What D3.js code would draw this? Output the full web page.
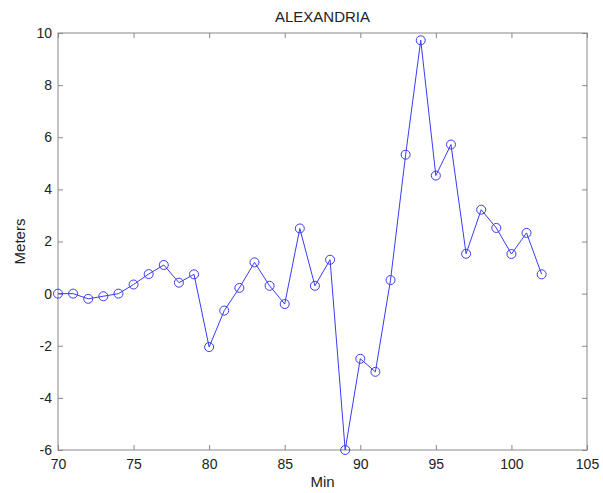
<!DOCTYPE html>
<html>
<head>
<meta charset="utf-8">
<script src="https://cdn.jsdelivr.net/npm/d3@7"></script>
<style>
  body { margin: 0; background: #fff; }
  text { font-family: "Liberation Sans", Arial, sans-serif; fill: #222; }
</style>
</head>
<body>
<svg id="chart" width="603" height="493"></svg>
<script>
// minutes and water level (m)
let minutes = d3.range(70, 103);
let meters = [0, 0, -0.2, -0.1, 0, 0.35, 0.75, 1.1, 0.42, 0.74,
    -2.05, -0.65, 0.22, 1.2, 0.3, -0.4, 2.5, 0.3, 1.3, -6.0,
    -2.5, -3.0, 0.52, 5.33, 9.72, 4.53, 5.72, 1.53, 3.22, 2.52,
    1.52, 2.33, 0.74];
let xTicks = [70, 75, 80, 85, 90, 95, 100, 105];
let yTicks = [-6, -4, -2, 0, 2, 4, 6, 8, 10];

let svg = d3.select('#chart');
let plotLeft = 58, plotRight = 587, plotTop = 33, plotBottom = 450;

let x = d3.scaleLinear().domain([70, 105]).range([plotLeft, plotRight]);
let y = d3.scaleLinear().domain([-6, 10]).range([plotBottom, plotTop]);
let axisColor = '#888';
let tickLen = 5;

// box
svg.append('rect')
    .attr('x', plotLeft).attr('y', plotTop)
    .attr('width', plotRight - plotLeft).attr('height', plotBottom - plotTop)
    .attr('fill', 'none').attr('stroke', axisColor).attr('stroke-width', 1);

// axes with inward ticks
let styleAxis = g => {
    g.select('.domain').remove();
    g.selectAll('.tick line').attr('stroke', axisColor);
    g.selectAll('.tick text').attr('font-size', 14).attr('fill', '#222')
        .style('font-family', '"Liberation Sans", Arial, sans-serif');
};

svg.append('g').attr('transform', `translate(0,${plotBottom})`)
    .call(d3.axisBottom(x).tickValues(xTicks).tickSize(-tickLen).tickPadding(9).tickFormat(d3.format('d')))
    .call(styleAxis);
svg.append('g').attr('transform', `translate(0,${plotTop})`)
    .call(d3.axisTop(x).tickValues(xTicks).tickSize(-tickLen).tickFormat(''))
    .call(styleAxis);
svg.append('g').attr('transform', `translate(${plotLeft},0)`)
    .call(d3.axisLeft(y).tickValues(yTicks).tickSize(-tickLen).tickPadding(6).tickFormat(d3.format('d')))
    .call(styleAxis);
svg.append('g').attr('transform', `translate(${plotRight},0)`)
    .call(d3.axisRight(y).tickValues(yTicks).tickSize(-tickLen).tickFormat(''))
    .call(styleAxis);

// plain hyphen for negatives like the original
svg.selectAll('.tick text').text(function () { return d3.select(this).text().replace('\u2212', '-'); });

let data = minutes.map((m, i) => ({ m: m, v: meters[i] }));
let blue = '#3b3bf5';

svg.append('path')
    .datum(data)
    .attr('d', d3.line().x(d => x(d.m)).y(d => y(d.v)))
    .attr('fill', 'none')
    .attr('stroke', blue)
    .attr('stroke-width', 1);

svg.append('g').selectAll('circle')
    .data(data)
    .enter()
    .append('circle')
    .attr('cx', d => x(d.m))
    .attr('cy', d => y(d.v))
    .attr('r', 4.5)
    .attr('fill', 'none')
    .attr('stroke', blue)
    .attr('stroke-width', 1);

svg.append('text')
    .attr('x', (plotLeft + plotRight) / 2).attr('y', 22)
    .attr('text-anchor', 'middle').attr('font-size', 15)
    .text('ALEXANDRIA');

svg.append('text')
    .attr('x', (plotLeft + plotRight) / 2).attr('y', 487)
    .attr('text-anchor', 'middle').attr('font-size', 15)
    .text('Min');

svg.append('text')
    .attr('transform', `translate(25,${(plotTop + plotBottom) / 2}) rotate(-90)`)
    .attr('text-anchor', 'middle').attr('font-size', 15)
    .text('Meters');
</script>
</body>
</html>
